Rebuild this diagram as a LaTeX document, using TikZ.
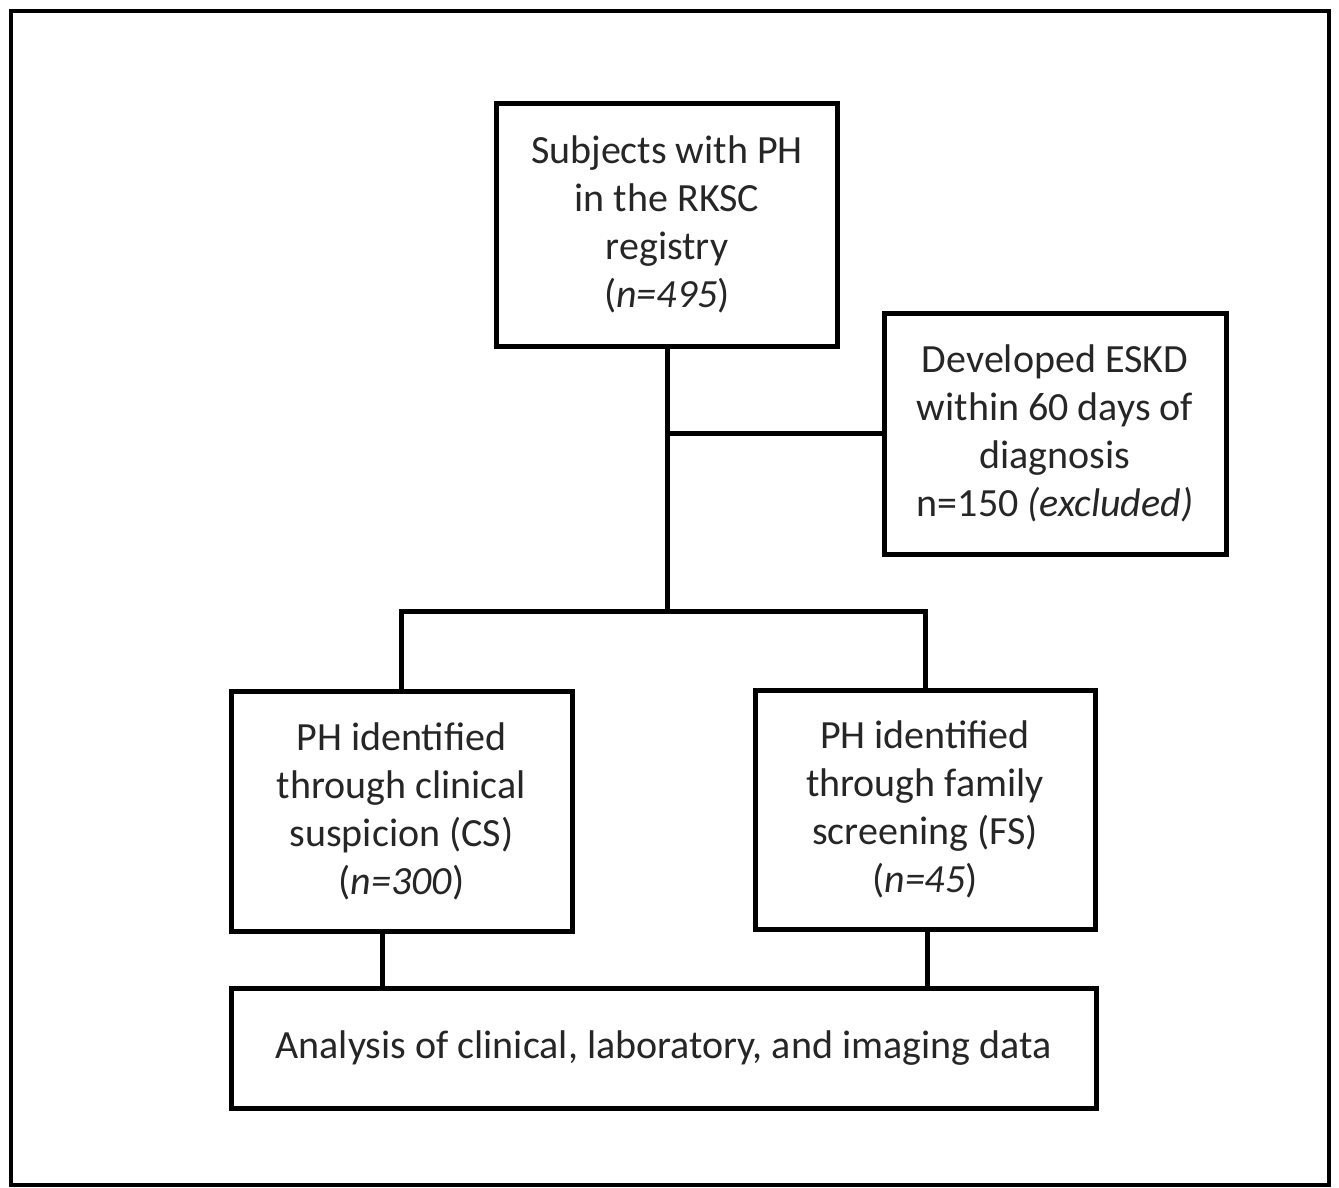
\documentclass[tikz,border=0pt]{standalone}
\usepackage{fontspec}
\setmainfont{Carlito}
\begin{document}
\begin{tikzpicture}[x=1pt,y=-1pt,
  box/.style={draw=black, line width=5pt, fill=white, align=center, inner sep=0pt,
    text=black!85, font=\fontsize{40}{48}\selectfont},
  conn/.style={draw=black, line width=5pt}]
\useasboundingbox (0,0) rectangle (1339,1187);
\draw[line width=4.5pt] (11,11) rectangle (1329,1185);
\node[box, minimum width=341pt, minimum height=243pt] (top) at (667,224.5)
  {Subjects with PH\\in the RKSC\\registry\\(\textit{n=495})};
\node[box, minimum width=342pt, minimum height=241pt] (eskd) at (1055,433.5)
  {Developed ESKD\\within 60 days of\\diagnosis\\n=150 \textit{(excluded)}};
\node[box, minimum width=341pt, minimum height=240pt] (cs) at (401.5,811)
  {PH identified\\through clinical\\suspicion (CS)\\(\textit{n=300})};
\node[box, minimum width=340pt, minimum height=239pt] (fs) at (925,809.5)
  {PH identified\\through family\\screening (FS)\\(\textit{n=45})};
\node[box, minimum width=865pt, minimum height=120pt] (an) at (663.5,1048)
  {Analysis of clinical, laboratory, and imaging data};
\coordinate (j) at (667,611);
\coordinate (b) at (667,433.5);
\coordinate (csb) at (382,931);
\coordinate (fsb) at (927,929);
\draw[conn] (top.south) -- (j);
\draw[conn] (b) -- (eskd.west);
\draw[conn] (cs.north) |- (j) -| (fs.north);
\draw[conn] (csb) -- (csb |- an.north);
\draw[conn] (fsb) -- (fsb |- an.north);
\end{tikzpicture}
\end{document}
